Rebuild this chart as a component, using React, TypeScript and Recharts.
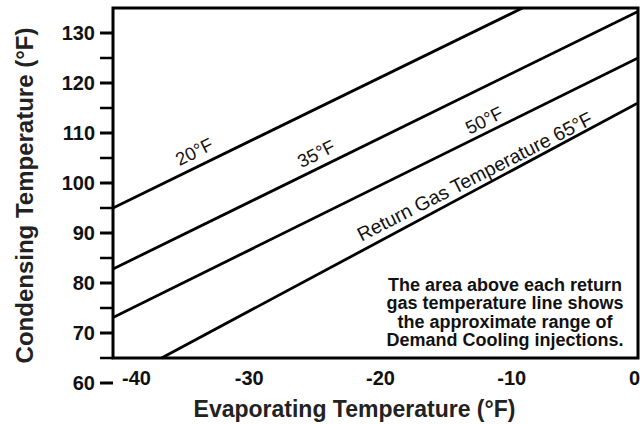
import React from 'react';
import {
  LineChart,
  Line,
  XAxis,
  YAxis,
  Label,
  ReferenceArea,
  ReferenceDot,
} from 'recharts';

// Return gas temperature lines: end points (evaporating °F -> condensing °F)
const evap20 = [-40, -8.8];
const cond20 = [95, 135];
const evap35 = [-40, 0];
const cond35 = [82.8, 134.3];
const evap50 = [-40, 0];
const cond50 = [73.1, 125];
const evap65 = [-36.3, 0];
const cond65 = [65, 116];

const xTicks = [-40, -30, -20, -10, 0];
const yTicks = [60, 65, 70, 75, 80, 85, 90, 95, 100, 105, 110, 115, 120, 125, 130];

// line labels, placed on the chart in data units
const labelText = ['20°F', '35°F', '50°F', 'Return Gas Temperature 65°F'];
const labelEvap = [-33.6, -24.3, -11.5, -12.2];
const labelCond = [105.1, 104.7, 111.4, 100.1];

const noteLines = [
  'The area above each return',
  'gas temperature line shows',
  'the approximate range of',
  'Demand Cooling injections.',
];
const noteEvap = -10.13;
const noteCond = 78.46;

const FONT = '"Liberation Sans", Arial, Helvetica, sans-serif';

const toRows = (xs: number[], ys: number[]) => xs.map((x, i) => ({ x, y: ys[i] }));

const series = [
  { key: 'r20', data: toRows(evap20, cond20) },
  { key: 'r35', data: toRows(evap35, cond35) },
  { key: 'r50', data: toRows(evap50, cond50) },
  { key: 'r65', data: toRows(evap65, cond65) },
];

function YTick(props: any) {
  const { x, y, payload } = props;
  const v = payload.value;
  const major = v % 10 === 0;
  return (
    <g>
      <line x1={x - 13} x2={x} y1={y} y2={y} stroke="#000" strokeWidth={major ? 3 : 2.5} />
      {major && (
        <text
          x={x - 18}
          y={y + 7}
          textAnchor="end"
          fontFamily={FONT}
          fontWeight="bold"
          fontSize={20}
          fill="#111"
        >
          {v}
        </text>
      )}
    </g>
  );
}

function XTick(props: any) {
  const { x, y, payload } = props;
  const v = payload.value;
  // first label sits inside the frame, the last one ends at the frame
  const tx = v === -40 ? x + 9 : v === 0 ? x + 2 : x + 5;
  const anchor = v === -40 ? 'start' : v === 0 ? 'end' : 'middle';
  return (
    <text
      x={tx}
      y={y + 2}
      textAnchor={anchor}
      fontFamily={FONT}
      fontWeight="bold"
      fontSize={20}
      fill="#111"
    >
      {v}
    </text>
  );
}

const lineLabel = (text: string, big: boolean) => (p: any) => (
  <text
    x={p.cx}
    y={p.cy}
    transform={`rotate(${big ? -27 : -26.5} ${p.cx} ${p.cy})`}
    textAnchor="middle"
    fontFamily={FONT}
    fontSize={big ? 19.5 : 18.5}
    fill="#111"
  >
    {text}
  </text>
);

const noteShape = (p: any) => (
  <text x={p.cx} y={p.cy} textAnchor="middle" fontFamily={FONT} fontWeight="bold" fontSize={18} fill="#111">
    {noteLines.map((t, i) => (
      <tspan key={i} x={p.cx} dy={i === 0 ? 0 : 18.4}>
        {t}
      </tspan>
    ))}
  </text>
);

export default function App() {
  return (
    <div style={{ position: 'absolute', left: 0, top: 0, background: '#fff' }}>
      <LineChart width={640} height={424} margin={{ top: 8, right: 2, bottom: 0, left: 0 }}>
        <XAxis
          type="number"
          dataKey="x"
          domain={[-40, 0]}
          ticks={xTicks}
          interval={0}
          allowDataOverflow
          axisLine={false}
          tickLine={false}
          tickSize={0}
          tickMargin={0}
          height={41}
          tick={<XTick />}
        >
          <Label
            content={(p: any) => {
              const vb = p.viewBox;
              return (
                <text
                  x={vb.x + vb.width / 2 - 21}
                  y={vb.y + vb.height - 7}
                  textAnchor="middle"
                  fontFamily={FONT}
                  fontWeight="bold"
                  fontSize={23}
                  fill="#222"
                >
                  Evaporating Temperature (°F)
                </text>
              );
            }}
          />
        </XAxis>
        <YAxis
          type="number"
          domain={[60, 135]}
          ticks={yTicks}
          interval={0}
          allowDataOverflow
          axisLine={false}
          tickLine={false}
          tickSize={0}
          tickMargin={0}
          width={113}
          tick={<YTick />}
        >
          <Label
            content={(p: any) => {
              const vb = p.viewBox;
              const cy = vb.y + vb.height / 2;
              return (
                <text
                  transform={`translate(33 ${cy}) rotate(-90)`}
                  textAnchor="middle"
                  fontFamily={FONT}
                  fontWeight="bold"
                  fontSize={24}
                  fill="#222"
                >
                  Condensing Temperature (°F)
                </text>
              );
            }}
          />
        </YAxis>

        <ReferenceArea x1={-40} x2={0} y1={65} y2={135} fill="none" stroke="#000" strokeWidth={3} />

        {series.map((s) => (
          <Line
            key={s.key}
            data={s.data}
            dataKey="y"
            type="linear"
            stroke="#000"
            strokeWidth={2.8}
            dot={false}
            activeDot={false}
            isAnimationActive={false}
          />
        ))}

        {labelText.map((t, i) => (
          <ReferenceDot
            key={t}
            x={labelEvap[i]}
            y={labelCond[i]}
            r={0}
            shape={lineLabel(t, i === 3)}
          />
        ))}

        <ReferenceDot x={noteEvap} y={noteCond} r={0} shape={noteShape} />
      </LineChart>
    </div>
  );
}
